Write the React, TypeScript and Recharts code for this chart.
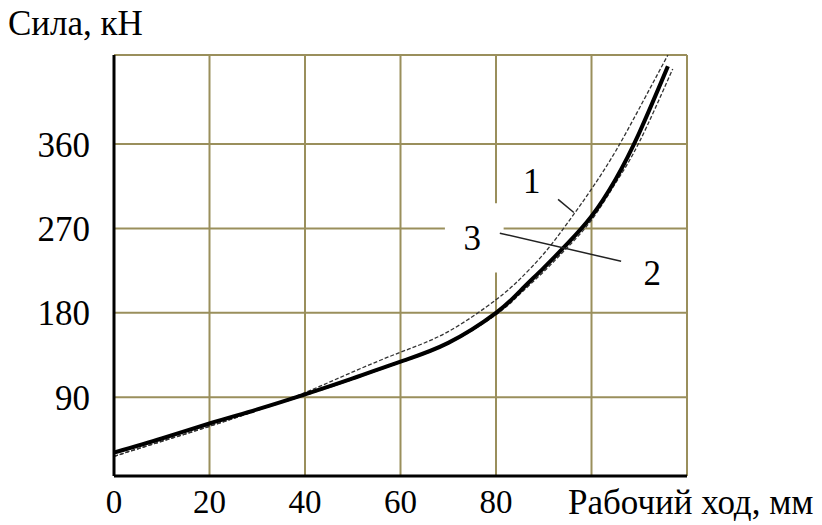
import { LineChart, Line, XAxis, YAxis, CartesianGrid, ReferenceLine, ReferenceArea, ReferenceDot } from 'recharts';

const xTicks = [0, 20, 40, 60, 80, 100, 120];
const yTicks = [90, 180, 270, 360];

// curve 1 (dashed, upper)
const curve1X = [0, 10, 20, 30, 40, 50, 60, 70, 80, 85, 90, 95, 100, 105, 110, 116];
const curve1Y = [27, 43, 59, 76, 95, 117, 138, 160, 194, 216, 243, 276, 312, 352, 398, 455];

// curve 2 (dashed, lower)
const curve2X = [0, 10, 20, 30, 40, 50, 60, 70, 80, 85, 90, 95, 100, 105, 110, 117];
const curve2Y = [27, 43, 59, 76, 92, 109, 127, 147, 178, 200, 224, 250, 279, 318, 362, 440];

// curve 3 (thick solid)
const curve3X = [0, 10, 20, 30, 40, 50, 60, 70, 80, 85, 90, 95, 100, 105, 110, 116];
const curve3Y = [31, 46, 62, 77, 93, 110, 128, 148, 180, 203, 228, 254, 283, 322, 372, 443];

const toRows = (xs: number[], ys: number[]) => xs.map((x, i) => ({ x, y: ys[i] }));

const grid = '#9a8f5c';
const font = '"Liberation Serif", "DejaVu Serif", serif';
const labelStyle = { fontSize: 35, fill: '#000', fontFamily: font };

export default function App() {
  return (
    <div style={{ position: 'absolute', left: 0, top: 0, width: 822, height: 525, background: '#fff', fontFamily: font }}>
      <div style={{ position: 'absolute', left: 8, top: 4, fontSize: 35, color: '#000', lineHeight: 1.15 }}>Сила, кН</div>
      <div style={{ position: 'absolute', left: 568, top: 483, fontSize: 35, color: '#000', lineHeight: 1.15 }}>Рабочий ход, мм</div>
      <LineChart width={822} height={525} margin={{ top: 55, right: 135, bottom: 0, left: 0 }}>
        <CartesianGrid stroke={grid} strokeWidth={2} />
        <XAxis
          type="number"
          dataKey="x"
          domain={[0, 120]}
          ticks={xTicks}
          height={49}
          tickFormatter={(v: number) => (v <= 80 ? String(v) : '')}
          axisLine={{ stroke: '#000', strokeWidth: 3 }}
          tickLine={false}
          tickMargin={8}
          tick={{ fontSize: 33, fill: '#000', fontFamily: font }}
          allowDataOverflow
        />
        <YAxis
          type="number"
          domain={[6, 455]}
          ticks={yTicks}
          width={114}
          axisLine={{ stroke: '#000', strokeWidth: 3 }}
          tickLine={false}
          tickMargin={18}
          tick={{ fontSize: 35, fill: '#000', fontFamily: font }}
          allowDataOverflow
        />
        <ReferenceLine y={455} stroke={grid} strokeWidth={2} />
        <ReferenceArea x1={69.3} x2={81.6} y1={223} y2={297} fill="#fff" fillOpacity={1} stroke="none" />
        <Line data={toRows(curve1X, curve1Y)} dataKey="y" type="natural" stroke="#333" strokeWidth={1.3} strokeDasharray="4 2" dot={false} isAnimationActive={false} />
        <Line data={toRows(curve2X, curve2Y)} dataKey="y" type="natural" stroke="#333" strokeWidth={1.3} strokeDasharray="4 2" dot={false} isAnimationActive={false} />
        <Line data={toRows(curve3X, curve3Y)} dataKey="y" type="natural" stroke="#000" strokeWidth={4} dot={false} isAnimationActive={false} />
        <ReferenceLine segment={[{ x: 93, y: 301 }, { x: 96.3, y: 287 }]} stroke="#222" strokeWidth={1.5} ifOverflow="visible" />
        <ReferenceLine segment={[{ x: 80.8, y: 265 }, { x: 106.2, y: 235 }]} stroke="#222" strokeWidth={1.5} ifOverflow="visible" />
        <ReferenceDot x={87.5} y={321.5} r={0} fill="none" stroke="none" label={{ value: '1', position: 'center', ...labelStyle }} />
        <ReferenceDot x={75} y={260} r={0} fill="none" stroke="none" label={{ value: '3', position: 'center', ...labelStyle }} />
        <ReferenceDot x={112.7} y={223} r={0} fill="none" stroke="none" label={{ value: '2', position: 'center', ...labelStyle }} />
      </LineChart>
    </div>
  );
}
